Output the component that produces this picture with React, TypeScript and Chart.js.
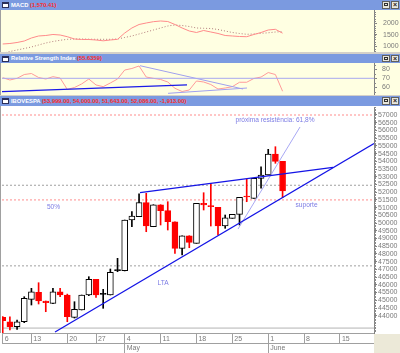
import React, { useEffect, useRef } from 'react';
import { Chart, registerables } from 'chart.js';
Chart.register(...registerables);

const FONT = 'Arial, "Liberation Sans", Helvetica, sans-serif';
Chart.defaults.font.family = FONT;

// ---------- data ----------
const tradingDates = [
  '2009-04-06', '2009-04-07', '2009-04-08', '2009-04-09',
  '2009-04-13', '2009-04-14', '2009-04-15', '2009-04-16', '2009-04-17',
  '2009-04-20', '2009-04-22', '2009-04-23', '2009-04-24',
  '2009-04-27', '2009-04-28', '2009-04-29', '2009-04-30',
  '2009-05-04', '2009-05-05', '2009-05-06', '2009-05-07', '2009-05-08',
  '2009-05-11', '2009-05-12', '2009-05-13', '2009-05-14', '2009-05-15',
  '2009-05-18', '2009-05-19', '2009-05-20', '2009-05-21', '2009-05-22',
  '2009-05-25', '2009-05-26', '2009-05-27', '2009-05-28', '2009-05-29',
  '2009-06-01', '2009-06-02', '2009-06-03',
];
const opens = [43897, 43612, 43288, 43612, 45063, 45516, 44953, 44804, 45555, 45341, 43897, 44370, 45341, 46358, 45387, 45341, 46916, 46916, 50199, 50413, 51320, 49765, 51190, 50802, 50089, 48366, 49182, 48690, 51281, 51106, 51022, 49810, 50309, 50568, 51720, 51605, 52900, 53114, 54474, 53999];
const highs = [43950, 43936, 43720, 45231, 45775, 46138, 44953, 45775, 45775, 45400, 44908, 45341, 46527, 46358, 45711, 47026, 47718, 50199, 50737, 51900, 51929, 51190, 51190, 51384, 50089, 49182, 49182, 51281, 51967, 52576, 51022, 50523, 50568, 51669, 52835, 52900, 53651, 54778, 54947, 54000];
const lows = [42880, 43075, 43120, 43550, 44694, 44759, 44260, 44780, 45231, 43612, 43850, 44370, 45300, 45193, 44480, 45341, 46851, 46900, 49765, 50413, 49441, 49765, 49875, 49551, 48042, 47932, 48405, 48690, 50847, 49810, 49228, 49662, 50309, 49875, 51384, 51605, 52253, 53114, 53872, 51643];
const closes = [43677, 43288, 43612, 45128, 45555, 44953, 44843, 45555, 45341, 43936, 44415, 45341, 46358, 45341, 45387, 46812, 46916, 50199, 50458, 51320, 49810, 51190, 50802, 50089, 48366, 49182, 48755, 51281, 51171, 51061, 49810, 50348, 50568, 51669, 51690, 52900, 53114, 54474, 53999, 52086];

const macdValues = [1100, 1122, 1165, 1230, 1361, 1448, 1470, 1513, 1491, 1417, 1317, 1296, 1296, 1274, 1239, 1274, 1304, 1578, 1796, 1948, 2013, 2070, 2100, 2078, 1948, 1796, 1665, 1600, 1687, 1622, 1557, 1470, 1448, 1426, 1417, 1513, 1600, 1709, 1739, 1570];
const macdSignal = [690, 774, 839, 904, 970, 1057, 1143, 1209, 1261, 1304, 1317, 1317, 1309, 1304, 1304, 1304, 1317, 1383, 1448, 1535, 1622, 1709, 1796, 1883, 1926, 1904, 1861, 1796, 1783, 1774, 1730, 1665, 1600, 1557, 1522, 1535, 1565, 1587, 1622, 1635];
const rsiValues = [70.7, 68.1, 70, 74.2, 75.3, 70.9, 69.2, 71.8, 70.3, 57.6, 59.8, 63.7, 69.2, 62.6, 60.7, 64.8, 69.2, 79.2, 80.9, 83.7, 71.4, 70, 68.7, 65.9, 58.9, 55.3, 57, 67, 65.9, 63.1, 58.1, 59.2, 60.7, 65.6, 65.6, 69.8, 71.4, 76.4, 74.2, 55.6];

const dayTickIndex = [0, 4, 9, 13, 17, 22, 27, 32, 37, 42, 47];
const dayTickLabels = ['6', '13', '20', '27', '4', '11', '18', '25', '1', '8', '15'];
const monthTickIndex = [17, 37];
const monthTickLabels = ['May', 'June'];
const priceTicks = [44000, 44500, 45000, 45500, 46000, 46500, 47000, 47500, 48000, 48500, 49000, 49500, 50000, 50500, 51000, 51500, 52000, 52500, 53000, 53500, 54000, 54500, 55000, 55500, 56000, 56500, 57000];
const macdTicks = [1000, 1500, 2000];
const rsiTicks = [60, 70, 80];

// horizontal levels on the price panel
const fibLevels = [57000, 51500];
const grayLevels = [52450, 47230];
const baseLevel = [43200];
// trend lines [index, price]
const ltaLine = [[7.29, 42945], [51.74, 55154]];
const upperLine = [[19.13, 51967], [46.03, 53613]];
const steepLine = [[32.79, 49616], [41.43, 56223]];
// RSI trend lines [index, rsi]
const rsiBlueLine = [[-0.38, 55.1], [25.68, 62.6]];
const rsiPurpleLine1 = [[19.13, 84.0], [33.49, 58.1]];
const rsiPurpleLine2 = [[23.04, 53.3], [34.04, 59.2]];
const rsiLevel = [70];
const notes = [
  { text: 'próxima resistência: 61,8%', x: 37.95, y: 56676 },
  { text: '50%', x: 7.08, y: 51041 },
  { text: 'LTA', x: 22.34, y: 46119 },
  { text: 'suporte', x: 42.34, y: 51171 },
];

// ---------- helpers ----------
const X_MIN = -0.1;
const X_MAX = 51.74;
const toPts = (arr: number[][]) => arr.map(([x, y]) => ({ x, y }));
const hLine = (v: number) => [{ x: X_MIN, y: v }, { x: X_MAX, y: v }];

const minorTicksPlugin = {
  id: 'minorTicks',
  afterDraw(chart: any, _a: any, opts: any) {
    if (!opts || !opts.values) return;
    const s = chart.scales.y;
    const ctx = chart.ctx;
    ctx.save();
    ctx.strokeStyle = opts.color || '#909090';
    ctx.lineWidth = 1;
    ctx.beginPath();
    for (const v of opts.values) {
      const y = Math.round(s.getPixelForValue(v)) + 0.5;
      ctx.moveTo(s.left, y);
      ctx.lineTo(s.left + 2, y);
    }
    ctx.stroke();
    ctx.restore();
  },
};

const notesPlugin = {
  id: 'notes',
  afterDatasetsDraw(chart: any, _a: any, opts: any) {
    if (!opts || !opts.items) return;
    const { ctx } = chart;
    const x = chart.scales.x;
    const y = chart.scales.y;
    ctx.save();
    ctx.fillStyle = opts.color;
    ctx.font = `${opts.size}px ${FONT}`;
    ctx.textAlign = 'center';
    ctx.textBaseline = 'middle';
    for (const n of opts.items) ctx.fillText(n.text, x.getPixelForValue(n.x), y.getPixelForValue(n.y));
    ctx.restore();
  },
};

const noPad = (s: any) => { s.paddingTop = 0; s.paddingBottom = 0; s.paddingLeft = 0; s.paddingRight = 0; };

function rightAxis(min: number, max: number, ticks: number[], pad: number) {
  return {
    type: 'linear',
    position: 'right',
    min,
    max,
    afterBuildTicks: (s: any) => { s.ticks = ticks.map((v) => ({ value: v })); },
    afterFit: (s: any) => { s.width = 26; noPad(s); },
    border: { display: true, color: '#808080', width: 1 },
    grid: { drawOnChartArea: false, drawTicks: true, tickLength: 3, color: '#808080', lineWidth: 1 },
    ticks: { color: '#7a7a7a', font: { family: FONT, size: 7 }, padding: pad, autoSkip: false, callback: (v: any) => String(v) },
  };
}

const hiddenX = () => ({ type: 'linear', min: X_MIN, max: X_MAX, display: false, offset: false });

function range(a: number, b: number, step: number) {
  const out: number[] = [];
  for (let v = a; v <= b + 1e-9; v += step) out.push(v);
  return out;
}

const baseOptions = {
  animation: false,
  responsive: false,
  devicePixelRatio: 1,
  events: [],
};

function TitleBar({ top, height, name, value }: { top: number; height: number; name: string; value: string }) {
  return (
    <div style={{ position: 'absolute', left: 0, top, width: 400, height, background: '#7b9ae0', overflow: 'hidden' }}>
      <div style={{ position: 'absolute', left: 2, top: Math.round((height - 6) / 2), width: 7, height: 6, background: '#fff', border: '1px solid #2b2f5a', borderTopWidth: 2, boxSizing: 'border-box' }} />
      <div style={{ position: 'absolute', left: 11, top: 0, height, lineHeight: height + 'px', fontSize: 5.8, fontWeight: 'bold', fontFamily: FONT, color: '#ffffff', whiteSpace: 'nowrap' }}>
        {name} <span style={{ color: '#ff2a2a' }}>{value}</span>
      </div>
      <div style={{ position: 'absolute', left: 382, top: 1, width: 8, height: height - 2, background: '#e8e6dc', border: '1px solid #606060', boxSizing: 'border-box' }}>
        <div style={{ position: 'absolute', left: 1, top: 1, width: 4, height: 3, border: '1px solid #303030', boxSizing: 'border-box' }} />
      </div>
      <div style={{ position: 'absolute', left: 391, top: 1, width: 8, height: height - 2, background: '#e8e6dc', border: '1px solid #606060', boxSizing: 'border-box', fontSize: 7, lineHeight: (height - 4) + 'px', textAlign: 'center', color: '#202020', fontFamily: FONT, fontWeight: 'bold' }}>×</div>
    </div>
  );
}

export default function App() {
  const macdRef = useRef<HTMLCanvasElement>(null);
  const rsiRef = useRef<HTMLCanvasElement>(null);
  const mainRef = useRef<HTMLCanvasElement>(null);

  useEffect(() => {
    const charts: Chart[] = [];

    // MACD
    charts.push(new Chart(macdRef.current as HTMLCanvasElement, {
      type: 'line',
      data: {
        datasets: [
          { data: tradingDates.map((_, i) => ({ x: i, y: macdValues[i] })), borderColor: '#ff8a8a', borderWidth: 1, pointRadius: 0 },
          { data: tradingDates.map((_, i) => ({ x: i, y: macdSignal[i] })), borderColor: '#b07a7a', borderWidth: 1, borderDash: [1, 2], pointRadius: 0 },
        ],
      },
      options: {
        ...baseOptions,
        layout: { padding: { left: 2, right: 0, top: 0, bottom: 0 } },
        plugins: { legend: { display: false }, tooltip: { enabled: false }, minorTicks: { values: range(800, 2500, 100), color: '#8a8a8a' } },
        scales: { x: hiddenX(), y: rightAxis(752, 2578, macdTicks, 6) },
      } as any,
      plugins: [minorTicksPlugin],
    }));

    // RSI
    charts.push(new Chart(rsiRef.current as HTMLCanvasElement, {
      type: 'line',
      data: {
        datasets: [
          { data: hLine(rsiLevel[0]), borderColor: '#a8a8f0', borderWidth: 1, pointRadius: 0 },
          { data: toPts(rsiBlueLine), borderColor: '#1a1ae8', borderWidth: 1.2, pointRadius: 0 },
          { data: toPts(rsiPurpleLine1), borderColor: '#a0a0ee', borderWidth: 1, pointRadius: 0 },
          { data: toPts(rsiPurpleLine2), borderColor: '#a0a0ee', borderWidth: 1, pointRadius: 0 },
          { data: tradingDates.map((_, i) => ({ x: i, y: rsiValues[i] })), borderColor: '#ff9a9a', borderWidth: 1, pointRadius: 0 },
        ],
      },
      options: {
        ...baseOptions,
        layout: { padding: { left: 2, right: 0, top: 0, bottom: 0 } },
        plugins: { legend: { display: false }, tooltip: { enabled: false }, minorTicks: { values: range(55, 85, 5), color: '#8a8a8a' } },
        scales: { x: hiddenX(), y: rightAxis(51.44, 87, rsiTicks, 5) },
      } as any,
      plugins: [minorTicksPlugin],
    }));

    // Main price chart
    const isUp = closes.map((c, i) => c >= opens[i]);
    const isDoji = closes.map((c, i) => Math.abs(c - opens[i]) < 60);
    const bodyFill = tradingDates.map((_, i) => (isDoji[i] ? (isUp[i] ? '#000000' : '#ff0000') : isUp[i] ? '#ffffff' : '#ff0000'));
    const bodyBorder = tradingDates.map((_, i) => (isUp[i] ? '#000000' : '#ff0000'));
    const wickColor = tradingDates.map((_, i) => (isUp[i] ? '#000000' : '#ff0000'));

    const lineDs = (pts: any[], color: string, width: number, dash: number[] = [], order = 0) => ({
      type: 'line', data: pts, borderColor: color, borderWidth: width, borderDash: dash, pointRadius: 0,
      xAxisID: 'x', yAxisID: 'y', order,
    });

    const xAxis = (ticksIdx: number[], labels: string[], weight: number, pad: number) => ({
      type: 'linear', axis: 'x', min: X_MIN, max: X_MAX, offset: false, position: 'bottom', weight,
      afterBuildTicks: (s: any) => { s.ticks = ticksIdx.map((v) => ({ value: v })); },
      afterFit: (s: any) => { s.height = 10; noPad(s); },
      border: { display: true, color: '#a0a0a0' },
      grid: { drawOnChartArea: false, drawTicks: true, tickLength: 10, color: '#a0a0a0', offset: false },
      ticks: {
        align: 'start', padding: pad, color: '#7a7a7a', font: { family: FONT, size: 7 }, maxRotation: 0, minRotation: 0, autoSkip: false,
        callback: (v: any) => ' ' + labels[ticksIdx.indexOf(v)],
      },
    });

    charts.push(new Chart(mainRef.current as HTMLCanvasElement, {
      type: 'bar',
      data: {
        datasets: [
          lineDs(toPts(ltaLine), '#1414e6', 1.3, [], 0),
          lineDs(toPts(upperLine), '#1414e6', 1.3, [], 0),
          lineDs(toPts(steepLine), '#a8a8f4', 1, [], 0),
          {
            type: 'bar', data: tradingDates.map((_, i) => ({ x: i, y: [opens[i], closes[i]] })),
            backgroundColor: bodyFill, borderColor: bodyBorder, borderWidth: 1, borderSkipped: false,
            barThickness: 6, grouped: false, minBarLength: 1, xAxisID: 'x', yAxisID: 'y', order: 1,
          },
          {
            type: 'bar', data: tradingDates.map((_, i) => ({ x: i, y: [lows[i], highs[i]] })),
            backgroundColor: wickColor, borderWidth: 0, barThickness: 1, grouped: false,
            xAxisID: 'x', yAxisID: 'y', order: 2,
          },
          ...fibLevels.map((v) => lineDs(hLine(v), '#ff8c8c', 1, [2, 2], 3)),
          ...grayLevels.map((v) => lineDs(hLine(v), '#a0a0a0', 1, [2, 2], 3)),
          ...baseLevel.map((v) => lineDs(hLine(v), '#b4b4b4', 1, [], 3)),
        ],
      },
      options: {
        ...baseOptions,
        layout: { padding: { left: 2, right: 0, top: 1, bottom: 0 } },
        plugins: {
          legend: { display: false }, tooltip: { enabled: false },
          minorTicks: { values: range(43000, 57500, 100), color: '#8a8a8a' },
          notes: { items: notes, color: '#7c7ce4', size: 6.6 },
        },
        scales: {
          x: xAxis(dayTickIndex, dayTickLabels, 0, -8),
          x2: xAxis(monthTickIndex, monthTickLabels, 1, -9),
          y: rightAxis(42881, 57518, priceTicks, 1),
        },
      } as any,
      plugins: [minorTicksPlugin, notesPlugin],
    }));

    return () => charts.forEach((c) => c.destroy());
  }, []);

  return (
    <div style={{ position: 'fixed', left: 0, top: 0, width: 400, height: 353, background: '#d4d0c8', overflow: 'hidden' }}>
      <TitleBar top={0} height={10} name="MACD" value="(1,570.41)" />
      <div style={{ position: 'absolute', left: 0, top: 10, width: 400, height: 42, background: '#ffffe2' }}>
        <canvas ref={macdRef} width={400} height={42} style={{ display: 'block' }} />
        <div style={{ position: 'absolute', left: 0, top: 0, width: 1, height: 42, background: '#a0a0a0' }} />
      </div>
      <TitleBar top={54} height={9} name="Relative Strength Index" value="(55.6359)" />
      <div style={{ position: 'absolute', left: 0, top: 63, width: 400, height: 32, background: '#ffffe2' }}>
        <canvas ref={rsiRef} width={400} height={32} style={{ display: 'block' }} />
        <div style={{ position: 'absolute', left: 0, top: 0, width: 1, height: 32, background: '#a0a0a0' }} />
      </div>
      <TitleBar top={96} height={10} name="IBOVESPA" value="(53,999.00, 54,000.00, 51,643.00, 52,086.00, -1,913.00)" />
      <div style={{ position: 'absolute', left: 0, top: 106, width: 400, height: 247, background: '#ffffff' }}>
        <canvas ref={mainRef} width={400} height={247} style={{ display: 'block' }} />
        <div style={{ position: 'absolute', left: 0, top: 0, width: 1, height: 227, background: '#a0a0a0' }} />
        <div style={{ position: 'absolute', left: 374, top: 228, width: 26, height: 19, background: '#ece9d8' }} />
      </div>
    </div>
  );
}
